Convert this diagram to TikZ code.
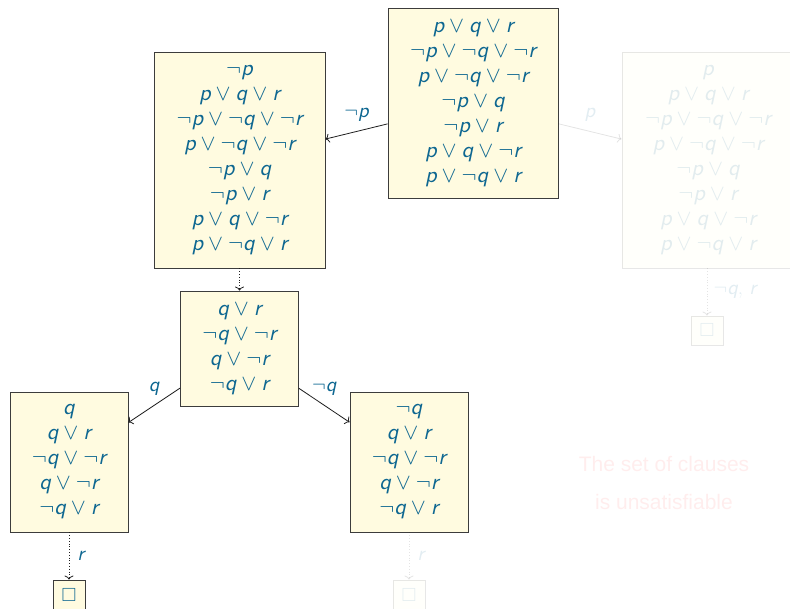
\RequirePackage{fix-cm}
\documentclass[tikz,border=0pt]{standalone}
\usepackage{amssymb}
\usepackage{fontspec}
\newfontfamily\helv{Liberation Sans}
% the 10pt design of Latin Modern Sans Oblique, scaled freely
\newfontfamily\litfont{lmsans10-oblique.otf}
\usetikzlibrary{arrows.meta}

\definecolor{clause}{RGB}{14,103,145}
\definecolor{boxfill}{RGB}{255,251,224}
\definecolor{boxline}{RGB}{60,60,60}
\definecolor{linkcol}{RGB}{30,30,30}

% literals in sans-serif italic
\newcommand\vP{\mbox{\litfont p}}
\newcommand\vQ{\mbox{\litfont q}}
\newcommand\vR{\mbox{\litfont r}}
\newcommand\clausefont{\fontsize{22.5}{25}\selectfont}
\newcommand\labelfont{\fontsize{20.5}{22}\selectfont}

\tikzset{
  clausebox/.style={draw=boxline, fill=boxfill, line width=0.85pt, text=clause,
    align=center, inner sep=0pt, font=\clausefont},
  emptybox/.style={clausebox, font=\fontsize{19}{20}\selectfont},
  link/.style={draw=linkcol, line width=0.8pt, -{To[length=4pt,width=9pt]}},
  dotlink/.style={link, dotted},
  lbl/.style={text=clause, font=\labelfont, inner sep=0pt},
  ghost/.style={opacity=0.12},
}

\begin{document}
\begin{tikzpicture}[x=1pt, y=-1pt]
\useasboundingbox (0,0) rectangle (790,608);

% root clause set
\node[clausebox, minimum width=170pt, minimum height=190pt] (root) at (473,103)
  {$\vP\lor\vQ\lor\vR$\\
   $\neg\vP\lor\neg\vQ\lor\neg\vR$\\
   $\vP\lor\neg\vQ\lor\neg\vR$\\
   $\neg\vP\lor\vQ$\\
   $\neg\vP\lor\vR$\\
   $\vP\lor\vQ\lor\neg\vR$\\
   $\vP\lor\neg\vQ\lor\vR$};

% branch on not p
\node[clausebox, minimum width=171pt, minimum height=216pt] (np) at (239.5,160)
  {$\neg\vP$\\
   $\vP\lor\vQ\lor\vR$\\
   $\neg\vP\lor\neg\vQ\lor\neg\vR$\\
   $\vP\lor\neg\vQ\lor\neg\vR$\\
   $\neg\vP\lor\vQ$\\
   $\neg\vP\lor\vR$\\
   $\vP\lor\vQ\lor\neg\vR$\\
   $\vP\lor\neg\vQ\lor\vR$};

% branch on p (faded)
\node[clausebox, ghost, minimum width=172pt, minimum height=216pt] (pp) at (708,160)
  {$\vP$\\
   $\vP\lor\vQ\lor\vR$\\
   $\neg\vP\lor\neg\vQ\lor\neg\vR$\\
   $\vP\lor\neg\vQ\lor\neg\vR$\\
   $\neg\vP\lor\vQ$\\
   $\neg\vP\lor\vR$\\
   $\vP\lor\vQ\lor\neg\vR$\\
   $\vP\lor\neg\vQ\lor\vR$};

% after unit propagation
\node[clausebox, minimum width=118pt, minimum height=115pt] (qr) at (239.5,348.5)
  {$\vQ\lor\vR$\\
   $\neg\vQ\lor\neg\vR$\\
   $\vQ\lor\neg\vR$\\
   $\neg\vQ\lor\vR$};

\node[clausebox, minimum width=118pt, minimum height=140pt] (lq) at (69,462)
  {$\vQ$\\
   $\vQ\lor\vR$\\
   $\neg\vQ\lor\neg\vR$\\
   $\vQ\lor\neg\vR$\\
   $\neg\vQ\lor\vR$};

\node[clausebox, minimum width=118pt, minimum height=140pt] (rq) at (409,462)
  {$\neg\vQ$\\
   $\vQ\lor\vR$\\
   $\neg\vQ\lor\neg\vR$\\
   $\vQ\lor\neg\vR$\\
   $\neg\vQ\lor\vR$};

% empty clauses
\node[emptybox, minimum width=32pt, minimum height=30pt] (e1) at (69,595) {$\square$};
\node[emptybox, ghost, minimum width=32pt, minimum height=30pt] (e2) at (409,595) {$\square$};
\node[emptybox, ghost, minimum width=32pt, minimum height=29pt] (e3) at (707,330.5) {$\square$};

% connectors
\draw[link] (root) -- (np) node[lbl, midway, yshift=17pt] {$\neg\vP$};
\draw[link, ghost] (root) -- (pp) node[lbl, midway, yshift=16.5pt] {$\vP$};
\draw[dotlink] (np.south) -- (qr.north);
\draw[link] (qr) -- (lq) node[lbl, midway, yshift=16pt] {$\vQ$};
\draw[link] (qr) -- (rq) node[lbl, midway, yshift=16pt] {$\neg\vQ$};
\draw[dotlink] (lq.south) -- (e1.north) node[lbl, midway, xshift=12pt] {$\vR$};
\draw[dotlink, ghost] (rq.south) -- (e2.north) node[lbl, midway, xshift=12pt] {$\vR$};
\draw[dotlink, ghost] (pp.south -| e3.north) -- (e3.north) node[lbl, midway, xshift=28pt] {$\neg\vQ$, $\vR$};

% verdict
\node[font=\helv\fontsize{21}{38}\selectfont, text=red, opacity=0.07, align=center]
  (verdict) at (664,483) {The set of clauses\\is unsatisfiable};
\end{tikzpicture}
\end{document}
